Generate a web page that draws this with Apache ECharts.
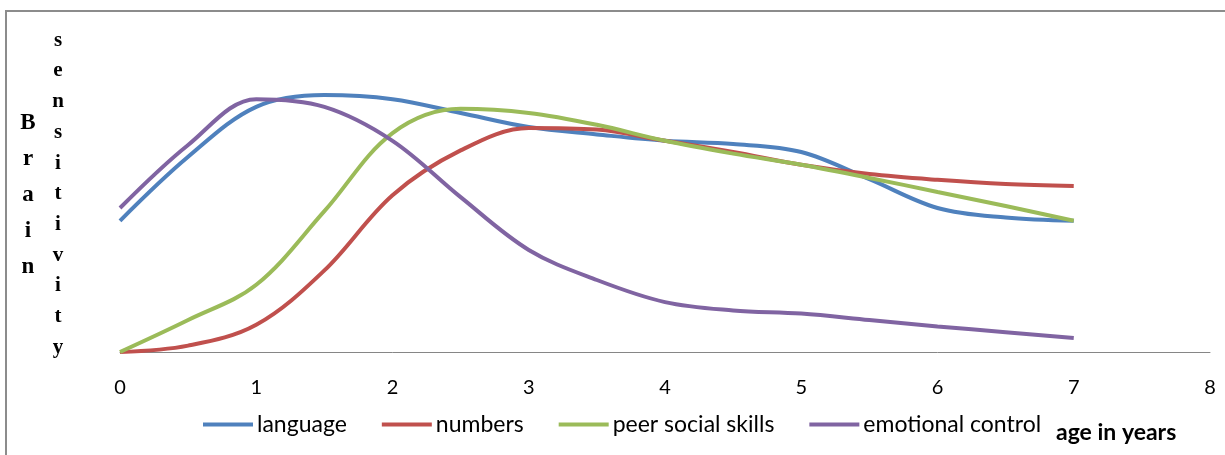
<!DOCTYPE html>
<html>
<head>
<meta charset="utf-8">
<script src="https://cdn.jsdelivr.net/npm/echarts@6/dist/echarts.min.js"></script>
<style>html,body{margin:0;padding:0;background:#fff}#c{width:1225px;height:455px}</style>
</head>
<body>
<div id="c"></div>
<script>
const ages = [0, 0.5, 1, 1.5, 2, 2.5, 3, 3.5, 4, 4.5, 5, 5.5, 6, 6.5, 7];
const language = [4.1, 6.1, 7.66, 8.03, 7.9, 7.47, 7.03, 6.8, 6.6, 6.5, 6.25, 5.4, 4.5, 4.2, 4.1];
const numbers = [0, 0.2, 0.85, 2.55, 4.9, 6.3, 7.0, 6.95, 6.6, 6.25, 5.85, 5.56, 5.38, 5.25, 5.19];
const peerSocial = [0, 1.0, 2.1, 4.4, 6.84, 7.6, 7.47, 7.1, 6.6, 6.2, 5.85, 5.44, 5.0, 4.56, 4.1];
const emotional = [4.5, 6.47, 7.9, 7.66, 6.6, 4.84, 3.19, 2.25, 1.56, 1.3, 1.2, 1.0, 0.8, 0.62, 0.44];
const xTicks = [0, 1, 2, 3, 4, 5, 6, 7, 8];
const seriesNames = ['language', 'numbers', 'peer social skills', 'emotional control'];
const colors = ['#4F81BD', '#C0504D', '#9BBB59', '#8064A2'];

const allData = [language, numbers, peerSocial, emotional];
const chart = echarts.init(document.getElementById('c'));
const font = 'Lato, "Open Sans", sans-serif';
chart.setOption({
  animation: false,
  color: colors,
  grid: { left: 120, right: 15, top: 32, bottom: 103 },
  xAxis: {
    type: 'value', min: 0, max: 8, interval: 1,
    axisLine: { lineStyle: { color: '#868686', width: 1 } },
    axisTick: { show: false },
    splitLine: { show: false },
    axisLabel: { fontFamily: font, fontSize: 20, color: '#000', margin: 26,
      formatter: v => xTicks.includes(v) ? String(v) : '' }
  },
  yAxis: {
    type: 'value', min: 0, max: 10,
    axisLine: { show: false }, axisTick: { show: false },
    axisLabel: { show: false }, splitLine: { show: false }
  },
  legend: {
    left: 198, top: 408,
    itemWidth: 50, itemHeight: 4, itemGap: 35,
    icon: 'rect',
    textStyle: { fontFamily: font, fontSize: 23, color: '#000', padding: [0,0,0,-1] },
    data: seriesNames
  },
  series: allData.map((d, i) => ({
    name: seriesNames[i],
    type: 'line',
    smooth: 0.35,
    showSymbol: false,
    symbol: 'none',
    lineStyle: { width: 4, color: colors[i] },
    data: ages.map((a, j) => [a, d[j]])
  })),
  graphic: [
    { type: 'polyline', shape: { points: [[6, 460], [6, 11], [1230, 11]] },
      style: { fill: 'none', stroke: '#8c8c8c', lineWidth: 2 }, silent: true },
    { type: 'text', x: 28, y: 105,
      style: { text: 'B\nr\na\ni\nn', font: 'bold 23px "Liberation Serif", serif', lineHeight: 36, fill: '#000', align: 'center' } },
    { type: 'text', x: 58, y: 25,
      style: { text: 's\ne\nn\ns\ni\nt\ni\nv\ni\nt\ny', font: 'bold 21px "Liberation Serif", serif', lineHeight: 30.7, fill: '#000', align: 'center' } },
    { type: 'text', left: 1056, top: 421,
      style: { text: 'age in years', font: 'bold 23px ' + font, fill: '#000' } }
  ]
});
</script>
</body>
</html>
